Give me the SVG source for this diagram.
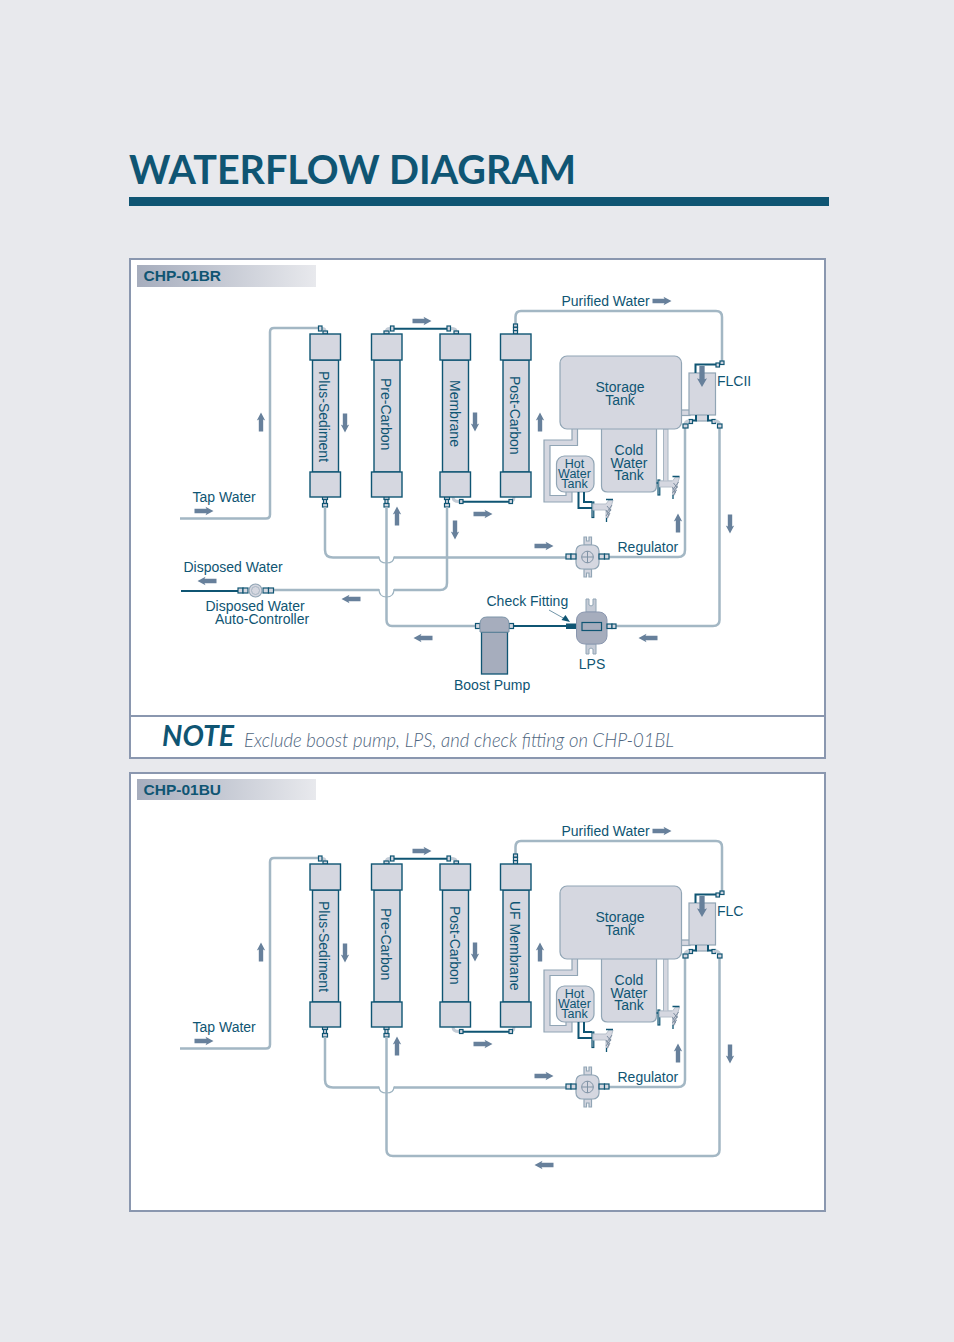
<svg xmlns="http://www.w3.org/2000/svg" xmlns:xlink="http://www.w3.org/1999/xlink" width="954" height="1342" viewBox="0 0 954 1342">
<style>
text{font-family:"Liberation Sans",Arial,sans-serif;fill:#0f5573;font-size:14px}
.m{text-anchor:middle}
.tube{fill:none;stroke:#a3b7c4;stroke-width:2.5}
.hop{fill:none;stroke:#9db3c0;stroke-width:1.2}
.elb{fill:none;stroke:#c3ccd6;stroke-width:3}
.dk{fill:none;stroke:#0f5573;stroke-width:2}
.dk1{fill:none;stroke:#0f5573;stroke-width:1.3}
.f{fill:#d5d7e0;stroke:#0f5573;stroke-width:1.2}
.c{fill:#d5d7e0;stroke:#0f5573;stroke-width:1.4}
.t{fill:#d5d7e0;stroke:#91a5b5;stroke-width:1.2}
.a{fill:#67809b}
.panel{fill:#fff;stroke:#8a97af;stroke-width:2}
.hd{font-weight:bold;font-size:15.500px}
.hot{font-size:12.5px}
</style>
<defs>
<linearGradient id="hg"><stop offset="0" stop-color="#a6adbd"/><stop offset="1" stop-color="#e8e9ed"/></linearGradient>
<path id="ar" class="a" d="M-9.5-2.200H2.500L1.500-4.200 9.500 0 1.500 4.200 2.500 2.200H-9.5Z"/>
<g id="cart">
<rect class="c" x="2.5" y="26" width="26" height="112"/>
<rect class="c" x="0" y="0" width="30.5" height="26"/>
<rect class="c" x="0" y="138" width="30.5" height="25"/>
</g>
<g id="ofit">
<rect class="f" x="-2.5" y="0" width="5" height="3"/><rect class="f" x="-1.5" y="3" width="3" height="4"/><rect class="f" x="-2.5" y="7" width="5" height="3.5"/>
</g>
<g id="tap">
<path d="M593 504H606L609 500H613L608 518H606V510H593Z" fill="#d5d7e0" stroke="#b6bfca" stroke-width="1"/>
<path d="M607 512L612 505M606 516L611 509M607 518L610 513M607 506L611 511M606 510L609 516" stroke="#7d8da0" stroke-width="1" fill="none"/>
<path class="dk1" d="M606 499.500H613M606.500 518V522"/>
</g>
<g id="tanks">
<rect x="681" y="410" width="9" height="5.5" class="t"/>
<path class="t" d="M572 428V440H544V502H572V491H566V495.5H550V445.5H577.500V428Z"/>
<path d="M663.500 429V481H660V486H672V481H668V429Z" fill="#d5d7e0" stroke="#a8b6c3" stroke-width="1"/>
<path class="t" d="M601.500 428H656.500V486Q656.500 492 650.500 492H607.500Q601.500 492 601.500 486Z"/>
<rect class="t" x="560" y="356" width="121.500" height="73" rx="7"/>
<rect class="t" x="556.500" y="456" width="37.500" height="36" rx="8"/>
<path class="dk" d="M578.500 492V508H592M584 492V502H592"/>
<rect class="f" x="592" y="502" width="1.800" height="15.500"/>
<rect class="f" x="658" y="480" width="1.800" height="15"/>
<path class="dk1" d="M656.500 483H658"/>
<use href="#tap" xlink:href="#tap"/>
<use href="#tap" xlink:href="#tap" x="66.500" y="-23"/>
</g>
<g id="flc">
<rect class="t" x="696" y="414" width="12" height="7" />
<rect class="t" x="689" y="373" width="26.500" height="42"/>
<path class="dk" d="M716 364.500H695.500V373M696 415V420.500H690M708 415V420.500H714"/>
<rect class="f" x="716" y="363" width="3.500" height="4"/><rect class="f" x="720" y="361" width="4" height="3.500"/>
<rect class="f" x="689" y="419.500" width="3.500" height="4"/><rect class="f" x="712" y="419.500" width="3.500" height="4"/>
<path class="elb" d="M689 421Q685 421 685 425M715 421Q719.500 421 719.500 425"/>
<rect class="f" x="683" y="424" width="5" height="4"/><rect class="f" x="717.500" y="424" width="4.500" height="4"/>
</g>
<g id="reg">
<path class="t" d="M584 545V537H586.500V541H589V537H591.500V545ZM584 569V577H586.500V573H589V577H591.500V569Z"/>
<rect class="t" x="576" y="545" width="23" height="24" rx="6" stroke="#91a5b5"/>
<circle cx="587.500" cy="557" r="5.800" fill="none" stroke="#8093a5"/>
<path d="M581.700 557H593.300M587.500 551.200V562.800" stroke="#8093a5" fill="none"/>
<rect class="f" x="566" y="554" width="5" height="5"/><rect class="f" x="571" y="554" width="5" height="5"/>
<rect class="f" x="599" y="554" width="5.500" height="5"/><rect class="f" x="604.500" y="554" width="4.500" height="5"/>
</g>
<g id="common-pipes">
<path class="tube" d="M180 518.500H266Q270 518.500 270 514.500V332Q270 328 274 328H319"/>
<path class="elb" d="M322 328.500Q325 328.500 325 331M390 328.500Q386.500 328.500 386.500 331M451 328.500Q456 328.500 456 331M453 497Q453 501.500 459 501.500M514 497Q514 501.500 509 501.500"/>
<path class="dk" d="M394 328.700H447M463 501.700H509"/>
<rect class="f" x="318.500" y="326" width="3.500" height="5"/><rect class="f" x="323" y="331" width="4.500" height="3"/>
<rect class="f" x="384" y="331" width="5" height="3"/><rect class="f" x="390.500" y="326" width="3.500" height="5"/>
<rect class="f" x="447" y="326" width="3.500" height="5"/><rect class="f" x="454" y="331" width="4.500" height="3"/>
<rect class="f" x="459.500" y="499.500" width="3.500" height="4"/><rect class="f" x="509" y="499.500" width="3.500" height="4"/>
<path class="tube" d="M515.500 324V317Q515.500 311 521 311H716Q722 311 722 317V361"/>
<rect class="f" x="513.500" y="324" width="4" height="3.300"/><rect class="f" x="513.500" y="327.300" width="4" height="3.300"/><rect class="f" x="513.500" y="330.600" width="4" height="3.400"/>
<use href="#ofit" xlink:href="#ofit" x="325" y="496.500"/>
<use href="#ofit" xlink:href="#ofit" x="386.500" y="496.500"/>
<path class="tube" d="M325 507V550Q325 557.500 333 557.500H379M394 557.500H566"/>
<path class="hop" d="M379 556.500C379 561 382 563 386.500 563S394 561 394 556.500"/>
<path class="tube" d="M685 428V550Q685 557 678 557H609"/>
</g>
</defs>

<rect width="954" height="1342" fill="#e8e9ed"/>
<text id="title" x="129" y="184" style="font-family:Lato,'Noto Sans',sans-serif;font-size:41px;font-weight:bold" textLength="447" lengthAdjust="spacingAndGlyphs">WATERFLOW DIAGRAM</text>
<rect id="title-rule" x="129" y="197" width="700" height="9" fill="#0f5573"/>

<g id="panel-chp-01br">
<rect class="panel" x="130" y="259" width="695" height="499"/>
<path d="M130 716H825" stroke="#8a97af" stroke-width="2"/>
<rect x="137" y="265" width="179" height="22" fill="url(#hg)"/>
<text class="hd" x="143.500" y="281">CHP-01BR</text>
<text x="162" y="746" style="font-family:Lato,'Noto Sans',sans-serif;font-size:29px;font-weight:bold;font-style:italic" textLength="72" lengthAdjust="spacingAndGlyphs">NOTE</text>
<text x="244" y="747" style="font-family:Lato,'Noto Sans',sans-serif;font-size:19px;font-style:italic;fill:#4f6680;font-weight:300" textLength="430" lengthAdjust="spacingAndGlyphs">Exclude boost pump, LPS, and check fitting on CHP-01BL</text>
</g>

<g id="connectors-chp-01br">
<use href="#common-pipes" xlink:href="#common-pipes"/>
<use href="#ofit" xlink:href="#ofit" x="447" y="496.500"/>
<path class="tube" d="M386.500 507V620Q386.500 626 392 626H476"/>
<path class="tube" d="M447 507V583Q447 590 440 590H394M379 590H274"/>
<path class="hop" d="M379 589C379 595 382 597 386.500 597S394 595 394 589"/>
<path class="tube" d="M719.500 428V620Q719.500 626 713 626H616"/>
<path class="dk" d="M513.500 626H566M181 591H238" stroke-width="2.500"/>
<path d="M549 610L565 619" stroke="#4d7a92" stroke-width="0.800" fill="none"/>
<path d="M570 622L561.500 620L565.500 615Z" fill="#0f5573"/>
<g id="flow-arrows-1">
<use href="#ar" xlink:href="#ar" transform="translate(662 301)"/>
<use href="#ar" xlink:href="#ar" transform="translate(422 321)"/>
<use href="#ar" xlink:href="#ar" transform="translate(261 422) rotate(-90)"/>
<use href="#ar" xlink:href="#ar" transform="translate(345 423) rotate(90)"/>
<use href="#ar" xlink:href="#ar" transform="translate(475 422) rotate(90)"/>
<use href="#ar" xlink:href="#ar" transform="translate(540 422) rotate(-90)"/>
<use href="#ar" xlink:href="#ar" transform="translate(204 511)"/>
<use href="#ar" xlink:href="#ar" transform="translate(397 516) rotate(-90)"/>
<use href="#ar" xlink:href="#ar" transform="translate(483 514)"/>
<use href="#ar" xlink:href="#ar" transform="translate(455 530) rotate(90)"/>
<use href="#ar" xlink:href="#ar" transform="translate(544 546)"/>
<use href="#ar" xlink:href="#ar" transform="translate(678 523) rotate(-90)"/>
<use href="#ar" xlink:href="#ar" transform="translate(730 524) rotate(90)"/>
<use href="#ar" xlink:href="#ar" transform="translate(207 581) rotate(180)"/>
<use href="#ar" xlink:href="#ar" transform="translate(351 599) rotate(180)"/>
<use href="#ar" xlink:href="#ar" transform="translate(423 638) rotate(180)"/>
<use href="#ar" xlink:href="#ar" transform="translate(648 638) rotate(180)"/>
</g>
</g>

<g id="plus-sediment-1"><use href="#cart" xlink:href="#cart" x="310" y="334"/><text transform="translate(318.500 371) rotate(90)">Plus-Sediment</text></g>
<g id="pre-carbon-1"><use href="#cart" xlink:href="#cart" x="371.500" y="334"/><text transform="translate(381 378) rotate(90)">Pre-Carbon</text></g>
<g id="membrane-1"><use href="#cart" xlink:href="#cart" x="440" y="334"/><text transform="translate(449.500 380) rotate(90)">Membrane</text></g>
<g id="post-carbon-1"><use href="#cart" xlink:href="#cart" x="500.500" y="334"/><text transform="translate(510 376) rotate(90)">Post-Carbon</text></g>
<g id="tanks-1"><use href="#tanks" xlink:href="#tanks"/>
<text class="m" x="620" y="392">Storage</text><text class="m" x="620" y="405">Tank</text>
<text class="m" x="629" y="455">Cold</text><text class="m" x="629" y="467.500">Water</text><text class="m" x="629" y="480">Tank</text>
<text class="m hot" x="574.500" y="468">Hot</text><text class="m hot" x="574.500" y="478">Water</text><text class="m hot" x="574.500" y="488">Tank</text></g>
<g id="flc-1"><use href="#flc" xlink:href="#flc"/><use href="#ar" xlink:href="#ar" transform="translate(702 376.500) rotate(90) scale(1.100 1.200)"/><text x="717" y="386">FLCII</text></g>
<g id="regulator-1"><use href="#reg" xlink:href="#reg"/><text x="617.500" y="551.500">Regulator</text></g>
<g id="auto-controller">
<rect class="f" x="238" y="588" width="5" height="5"/><rect class="f" x="243" y="588" width="5" height="5"/>
<rect class="f" x="263" y="588" width="5.500" height="5"/><rect class="f" x="268.500" y="588" width="5" height="5"/>
<circle cx="255.500" cy="590.500" r="6.500" fill="#d5d7e0" stroke="#91a5b5" stroke-width="1.200"/><circle cx="255.500" cy="590.500" r="4" fill="none" stroke="#a8b6c3"/>
<text x="205.500" y="611">Disposed Water</text><text x="215" y="624">Auto-Controller</text>
</g>
<g id="boost-pump">
<rect class="f" x="475.500" y="623.500" width="4.500" height="5"/><rect class="f" x="509" y="623.500" width="4.500" height="5"/>
<rect x="481.500" y="632" width="26" height="42" fill="#a6adbd" stroke="#0f5573" stroke-width="1.300"/>
<path d="M480 632V624Q480 617 487 617H502Q509 617 509 624V632Z" fill="#a6adbd" stroke="#7d94a8" stroke-width="1"/>
<text x="454" y="690">Boost Pump</text>
</g>
<g id="lps">
<rect x="566" y="623.500" width="11" height="5.500" fill="#0f5573"/>
<path d="M586 612V599H589V605Q591 607 593 605V599H596V612ZM586 644V654H589V649Q591 647 593 649V654H596V644Z" fill="#c5cbd6" stroke="#91a5b5" stroke-width="1"/>
<rect x="576.500" y="612" width="30.500" height="32" rx="8" fill="#a6adbd" stroke="#8a97af"/>
<rect x="582" y="622.500" width="19.500" height="8" fill="none" stroke="#0f5573" stroke-width="1.200"/>
<rect class="f" x="607" y="624" width="5" height="4.500"/><rect class="f" x="612" y="624" width="4" height="4.500"/>
<text class="m" x="592" y="669">LPS</text>
</g>
<g id="labels-1">
<text x="561.500" y="306">Purified Water</text>
<text x="192.500" y="502">Tap Water</text>
<text x="183.500" y="572">Disposed Water</text>
<text x="486.500" y="606">Check Fitting</text>
</g>

<g id="panel-chp-01bu">
<rect class="panel" x="130" y="773" width="695" height="438"/>
<rect x="137" y="779" width="179" height="21" fill="url(#hg)"/>
<text class="hd" x="143.500" y="795">CHP-01BU</text>
</g>

<g id="connectors-chp-01bu" transform="translate(0 530)">
<use href="#common-pipes" xlink:href="#common-pipes"/>
<path class="tube" d="M386.500 507V620Q386.500 626 393 626H713Q719.500 626 719.500 620V428"/>
<g id="flow-arrows-2">
<use href="#ar" xlink:href="#ar" transform="translate(662 301)"/>
<use href="#ar" xlink:href="#ar" transform="translate(422 321)"/>
<use href="#ar" xlink:href="#ar" transform="translate(261 422) rotate(-90)"/>
<use href="#ar" xlink:href="#ar" transform="translate(345 423) rotate(90)"/>
<use href="#ar" xlink:href="#ar" transform="translate(475 422) rotate(90)"/>
<use href="#ar" xlink:href="#ar" transform="translate(540 422) rotate(-90)"/>
<use href="#ar" xlink:href="#ar" transform="translate(204 511)"/>
<use href="#ar" xlink:href="#ar" transform="translate(397 516) rotate(-90)"/>
<use href="#ar" xlink:href="#ar" transform="translate(483 514)"/>
<use href="#ar" xlink:href="#ar" transform="translate(544 546)"/>
<use href="#ar" xlink:href="#ar" transform="translate(678 523) rotate(-90)"/>
<use href="#ar" xlink:href="#ar" transform="translate(730 524) rotate(90)"/>
<use href="#ar" xlink:href="#ar" transform="translate(544 635) rotate(180)"/>
</g>
</g>

<g id="plus-sediment-2" transform="translate(0 530)"><use href="#cart" xlink:href="#cart" x="310" y="334"/><text transform="translate(318.500 371) rotate(90)">Plus-Sediment</text></g>
<g id="pre-carbon-2" transform="translate(0 530)"><use href="#cart" xlink:href="#cart" x="371.500" y="334"/><text transform="translate(381 378) rotate(90)">Pre-Carbon</text></g>
<g id="post-carbon-2" transform="translate(0 530)"><use href="#cart" xlink:href="#cart" x="440" y="334"/><text transform="translate(449.500 376) rotate(90)">Post-Carbon</text></g>
<g id="uf-membrane" transform="translate(0 530)"><use href="#cart" xlink:href="#cart" x="500.500" y="334"/><text transform="translate(510 371) rotate(90)">UF Membrane</text></g>
<g id="tanks-2" transform="translate(0 530)"><use href="#tanks" xlink:href="#tanks"/>
<text class="m" x="620" y="392">Storage</text><text class="m" x="620" y="405">Tank</text>
<text class="m" x="629" y="455">Cold</text><text class="m" x="629" y="467.500">Water</text><text class="m" x="629" y="480">Tank</text>
<text class="m hot" x="574.500" y="468">Hot</text><text class="m hot" x="574.500" y="478">Water</text><text class="m hot" x="574.500" y="488">Tank</text></g>
<g id="flc-2" transform="translate(0 530)"><use href="#flc" xlink:href="#flc"/><use href="#ar" xlink:href="#ar" transform="translate(702 376.500) rotate(90) scale(1.100 1.200)"/><text x="717" y="386">FLC</text></g>
<g id="regulator-2" transform="translate(0 530)"><use href="#reg" xlink:href="#reg"/><text x="617.500" y="551.500">Regulator</text></g>
<g id="labels-2">
<text x="561.500" y="836">Purified Water</text>
<text x="192.500" y="1032">Tap Water</text>
</g>
</svg>
